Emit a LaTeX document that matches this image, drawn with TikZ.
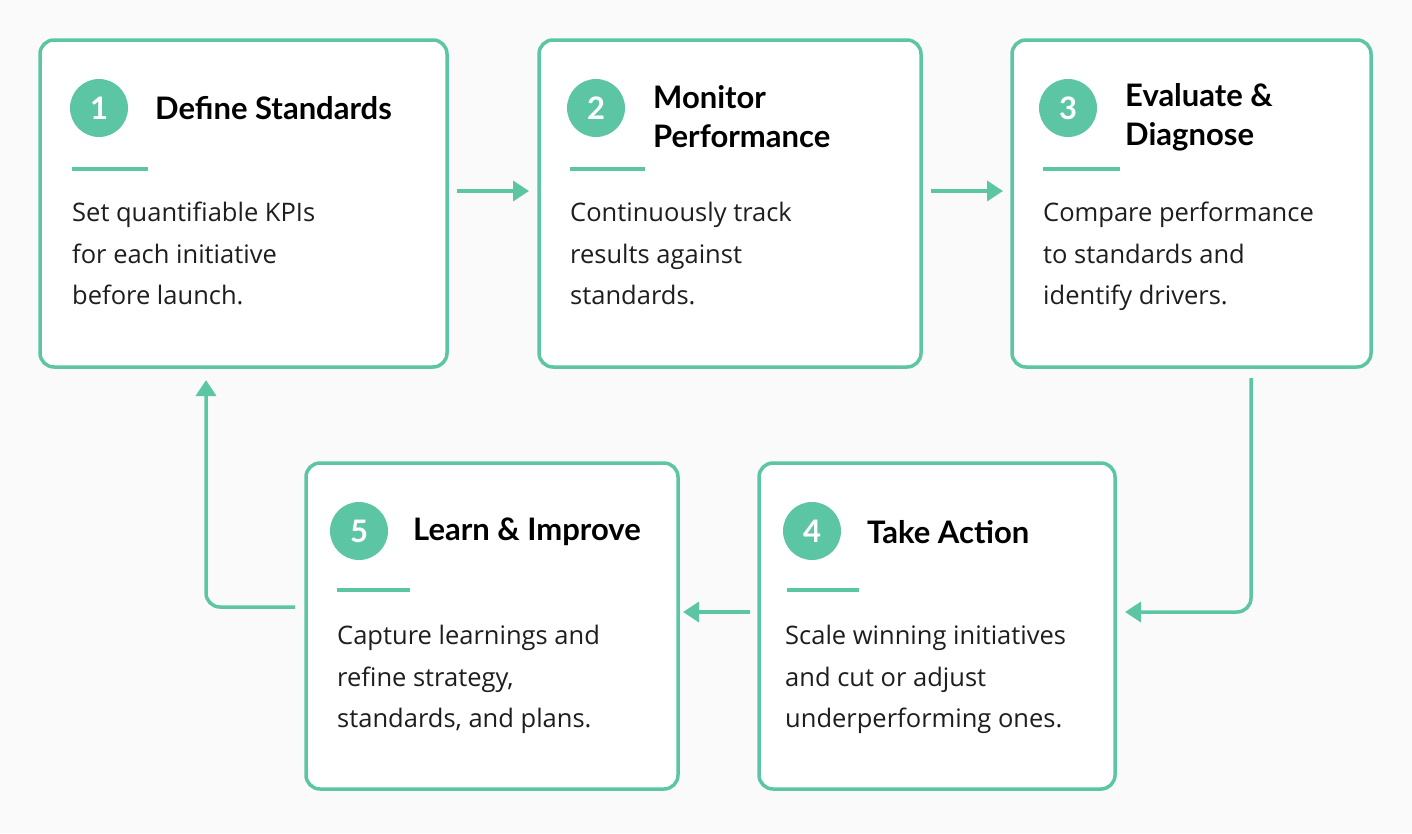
\documentclass[tikz,border=0pt]{standalone}
\usepackage{fontspec}
\setmainfont{Open Sans}
\newfontfamily\titlefont{Lato}
\usetikzlibrary{arrows.meta}
\definecolor{teal}{HTML}{5CC6A4}
\definecolor{bg}{HTML}{FAFAFA}
\definecolor{ink}{HTML}{1E1E1E}
\tikzset{
 box/.style={draw=teal,line width=3.5pt,rounded corners=14pt,fill=white},
 num/.style={circle,fill=teal,minimum size=58pt,inner sep=0pt,text=white,font=\titlefont\bfseries\fontsize{31}{31}\selectfont},
 ttl/.style={anchor=west,align=left,text=black,font=\titlefont\bfseries\fontsize{31}{39}\selectfont,inner sep=0pt},
 body/.style={anchor=north west,align=left,text=ink,font=\fontsize{25.5}{41.5}\selectfont,inner sep=0pt},
 rule/.style={draw=teal,line width=3.5pt},
 arr/.style={draw=teal,line width=3.5pt,-{Triangle[length=16pt,width=20pt]},rounded corners=14pt}
}
\begin{document}
\begin{tikzpicture}[x=1pt,y=-1pt]
\fill[bg] (0,0) rectangle (1412,833);
\useasboundingbox (0,0) rectangle (1412,833);
% boxes
\draw[box] (40,40) rectangle (447,367);
\draw[box] (539,40) rectangle (921,367);
\draw[box] (1012,40) rectangle (1371,367);
\draw[box] (306,463) rectangle (678,789);
\draw[box] (759,463) rectangle (1115,789);
% box 1
\node[num] (n1) at (99,108) {1};
\node[ttl] (t1) at (155,108) {Define Standards};
\draw[rule] (72,169) -- (148,169);
\node[body] (b1) at (72,202) {Set quantifiable KPIs\\for each initiative\\before launch.};
% box 2
\node[num] (n2) at (596,108) {2};
\node[ttl] (t2) at (653,117) {Monitor\\Performance};
\draw[rule] (570,169) -- (645,169);
\node[body] (b2) at (570,202) {Continuously track\\results against\\standards.};
% box 3
\node[num] (n3) at (1068,108) {3};
\node[ttl] (t3) at (1125,117) {Evaluate \&\\Diagnose};
\draw[rule] (1043,169) -- (1120,169);
\node[body] (b3) at (1043,202) {Compare performance\\to standards and\\identify drivers.};
% box 5
\node[num] (n5) at (359,531) {5};
\node[ttl] (t5) at (413,532) {Learn \& Improve};
\draw[rule] (337,590) -- (410,590);
\node[body] (b5) at (337,625) {Capture learnings and\\refine strategy,\\standards, and plans.};
% box 4
\node[num] (n4) at (812,531) {4};
\node[ttl] (t4) at (867,532) {Take Action};
\draw[rule] (787,590) -- (859,590);
\node[body] (b4) at (785,625) {Scale winning initiatives\\and cut or adjust\\underperforming ones.};
% arrows
\coordinate (a1s) at (457,191); \coordinate (a1e) at (529,191);
\coordinate (a2s) at (931,191); \coordinate (a2e) at (1003,191);
\coordinate (a3s) at (1251,378); \coordinate (a3c) at (1251,612); \coordinate (a3e) at (1125,612);
\coordinate (a4s) at (750,612); \coordinate (a4e) at (683,612);
\coordinate (a5s) at (295,607); \coordinate (a5c) at (206,607); \coordinate (a5e) at (206,380);
\draw[arr] (a1s) -- (a1e);
\draw[arr] (a2s) -- (a2e);
\draw[arr] (a3s) -- (a3c) -- (a3e);
\draw[arr] (a4s) -- (a4e);
\draw[arr] (a5s) -- (a5c) -- (a5e);
\end{tikzpicture}
\end{document}
